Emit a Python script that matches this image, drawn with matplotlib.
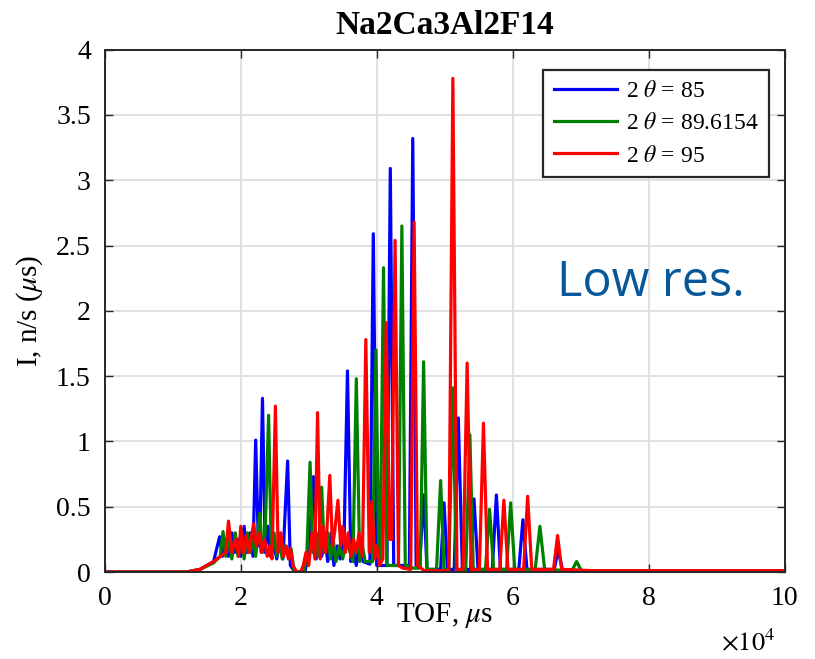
import matplotlib
matplotlib.use("Agg")
import matplotlib.pyplot as plt

plt.rcParams['font.family'] = ['Liberation Serif', 'DejaVu Serif']
plt.rcParams['mathtext.fontset'] = 'stix'

title = "Na2Ca3Al2F14"
labels = [r"2 $\theta$ = 85", r"2 $\theta$ = 89.6154", r"2 $\theta$ = 95"]
colors = ["#0000ff", "#008000", "#ff0000"]

x_ticks = [0, 20000, 40000, 60000, 80000, 100000]
x_tick_labels = ["0", "2", "4", "6", "8", "10"]
y_ticks = [0, 0.5, 1, 1.5, 2, 2.5, 3, 3.5, 4]
y_tick_labels = ["0", "0.5", "1", "1.5", "2", "2.5", "3", "3.5", "4"]

# TOF (us) and intensity vertices
tof_85 = [0, 12000, 14000, 16000, 16900, 17300, 17800, 18200, 18700, 19100, 19600, 20000,
          20500, 20900, 21400, 21800, 22200, 22600, 22800, 23200, 23600, 24000, 24400, 24900,
          25300, 25800, 26200, 26900, 27300, 27700, 28200, 29400, 29900, 30700, 31100, 31500,
          31900, 32400, 32800, 33300, 33700, 34200, 34600, 35200, 35700, 36200, 36600, 37000,
          37500, 38000, 39000, 39500, 40000, 40700, 41500, 42000, 42500, 43500, 44800, 45300,
          45800, 46300, 46900, 47400, 49400, 49900, 50400, 51400, 52000, 52600, 53800, 54300,
          54900, 57000, 57600, 58200, 60900, 61500, 62100, 66100, 66700, 67300, 70000, 100000]
int_85 = [0, 0, 0.02, 0.08, 0.27, 0.12, 0.25, 0.12, 0.30, 0.15, 0.25, 0.12,
          0.35, 0.15, 0.30, 0.12, 1.01, 0.20, 0.22, 1.33, 0.15, 0.35, 0.12, 0.20,
          0.10, 0.25, 0.10, 0.85, 0.05, 0.02, 0.0, 0.0, 0.10, 0.73, 0.10, 0.30,
          0.12, 0.25, 0.08, 0.30, 0.05, 0.20, 0.10, 0.25, 1.54, 0.08, 0.15, 0.05,
          0.25, 0.08, 0.06, 2.59, 0.05, 0.05, 0.05, 3.09, 0.05, 0.05, 0.05, 3.32,
          0.05, 0.05, 0.59, 0.02, 0.02, 0.53, 0.02, 0.02, 1.18, 0.02, 0.02, 0.56,
          0.02, 0.02, 0.59, 0.02, 0.02, 0.40, 0.02, 0.02, 0.17, 0.02, 0.01, 0.01]

tof_896 = [0, 12000, 14000, 16000, 17000, 17400, 17800, 18300, 18700, 19200, 19600, 20100,
           20500, 21000, 21400, 21800, 22200, 22800, 23200, 23600, 24100, 24500, 24900, 25300,
           25700, 26100, 26500, 27000, 27400, 27800, 28300, 29200, 29700, 30200, 30600, 31000,
           31400, 31900, 32300, 32800, 33200, 33600, 34000, 34500, 35000, 35500, 36500, 37000,
           37500, 37900, 38300, 39400, 39900, 40300, 40500, 41000, 41500, 42600, 43200, 43700,
           44200, 45300, 46400, 46900, 47400, 48800, 49400, 49900, 50600, 51200, 51700, 53100,
           53700, 54200, 56000, 56600, 57200, 59100, 59700, 60300, 63300, 64000, 64700, 68700,
           69400, 70100, 100000]
int_896 = [0, 0, 0.02, 0.07, 0.12, 0.31, 0.12, 0.25, 0.10, 0.30, 0.12, 0.25,
           0.10, 0.30, 0.15, 0.25, 0.12, 0.45, 0.15, 0.30, 1.20, 0.15, 0.30, 0.12,
           0.25, 0.10, 0.20, 0.12, 0.18, 0.02, 0.0, 0.0, 0.10, 0.84, 0.15, 0.30,
           0.12, 0.65, 0.15, 0.30, 0.10, 0.25, 0.08, 0.20, 0.10, 0.25, 0.08, 1.48,
           0.08, 0.20, 0.08, 0.08, 1.70, 0.08, 0.08, 2.33, 0.05, 0.05, 0.05, 2.65,
           0.05, 0.03, 0.03, 1.61, 0.02, 0.02, 0.70, 0.02, 0.02, 1.41, 0.02, 0.02,
           1.05, 0.02, 0.02, 0.48, 0.02, 0.02, 0.53, 0.02, 0.02, 0.35, 0.02, 0.01,
           0.08, 0.01, 0.0]

tof_95 = [0, 12000, 14000, 16000, 17000, 17800, 18200, 18700, 19300, 19700, 20000, 20400,
          20800, 21200, 21900, 22300, 22700, 23000, 23500, 23900, 24300, 24600, 25100, 25500,
          25900, 26300, 26700, 27000, 27300, 27700, 28200, 28800, 29200, 29600, 30000, 30500,
          30900, 31300, 31700, 32100, 32500, 33100, 33500, 33800, 34300, 34700, 35000, 35400,
          35800, 36200, 36600, 37000, 37400, 37900, 38400, 38900, 39300, 39700, 40000, 40400,
          40900, 41400, 41900, 42200, 42700, 43200, 43800, 45000, 45500, 46000, 47000, 50600,
          51200, 51800, 52700, 53300, 53900, 55100, 55700, 56300, 58100, 58700, 59300, 61600,
          62200, 62800, 66000, 66600, 67200, 72000, 100000]
int_95 = [0, 0, 0.02, 0.08, 0.12, 0.15, 0.39, 0.15, 0.25, 0.12, 0.35, 0.15,
          0.28, 0.15, 0.37, 0.20, 0.30, 0.15, 0.25, 0.12, 0.20, 0.10, 1.27, 0.15,
          0.30, 0.12, 0.20, 0.10, 0.18, 0.05, 0.0, 0.0, 0.05, 0.15, 0.05, 0.30,
          0.10, 1.22, 0.10, 0.35, 0.15, 0.74, 0.20, 0.30, 0.55, 0.20, 0.35, 0.15,
          0.30, 0.12, 0.25, 0.15, 0.30, 0.12, 1.78, 0.15, 0.54, 0.10, 0.20, 0.05,
          0.10, 1.91, 0.25, 0.25, 2.54, 0.05, 0.03, 0.02, 2.68, 0.05, 0.01, 0.01,
          3.78, 0.02, 0.02, 1.60, 0.02, 0.02, 1.14, 0.02, 0.02, 0.55, 0.02, 0.02,
          0.58, 0.02, 0.02, 0.28, 0.02, 0.01, 0.01]

fig = plt.figure(figsize=(8.15, 6.59), dpi=100)
ax = fig.add_axes([0.1285, 0.132, 0.8343, 0.7926])

for xs, ys, c, lab in [(tof_85, int_85, colors[0], labels[0]),
                       (tof_896, int_896, colors[1], labels[1]),
                       (tof_95, int_95, colors[2], labels[2])]:
    ax.plot(xs, ys, color=c, lw=2.3, label=lab)

ax.set_xlim(0, 100000)
ax.set_ylim(0, 4)
ax.set_xticks(x_ticks)
ax.set_xticklabels(x_tick_labels)
ax.set_yticks(y_ticks)
ax.set_yticklabels(y_tick_labels)
ax.grid(True, color="#dedede", lw=1.3)
ax.set_axisbelow(True)
ax.tick_params(direction="in", top=True, right=True, length=6, width=1.0,
               labelsize=20, color="#262626", pad=10)
for s in ax.spines.values():
    s.set_color("#262626")
    s.set_linewidth(1.4)

ax.set_title(title, fontsize=24, fontweight="bold", pad=11)
ax.set_xlabel(r"TOF, $\mu$s", fontsize=21, labelpad=-7)
ax.set_ylabel(r"I, n/s ($\mu$s)", fontsize=21, labelpad=8)
fig.text(0.918, 0.025, r"$\times10^4$", fontsize=19, ha="center", va="center")

leg = ax.legend(loc="upper right", bbox_to_anchor=(0.977, 0.961), fontsize=17,
                fancybox=False, framealpha=1, edgecolor="#262626", borderaxespad=0,
                handlelength=2.7, handletextpad=0.35, borderpad=0.45, labelspacing=0.45)
leg.get_frame().set_linewidth(1.6)

ax.text(0.665, 0.553, "Low res.", transform=ax.transAxes, fontsize=35,
        family="Open Sans", color="#07589a", va="center", ha="left")

fig.savefig("out.png", dpi=100)
